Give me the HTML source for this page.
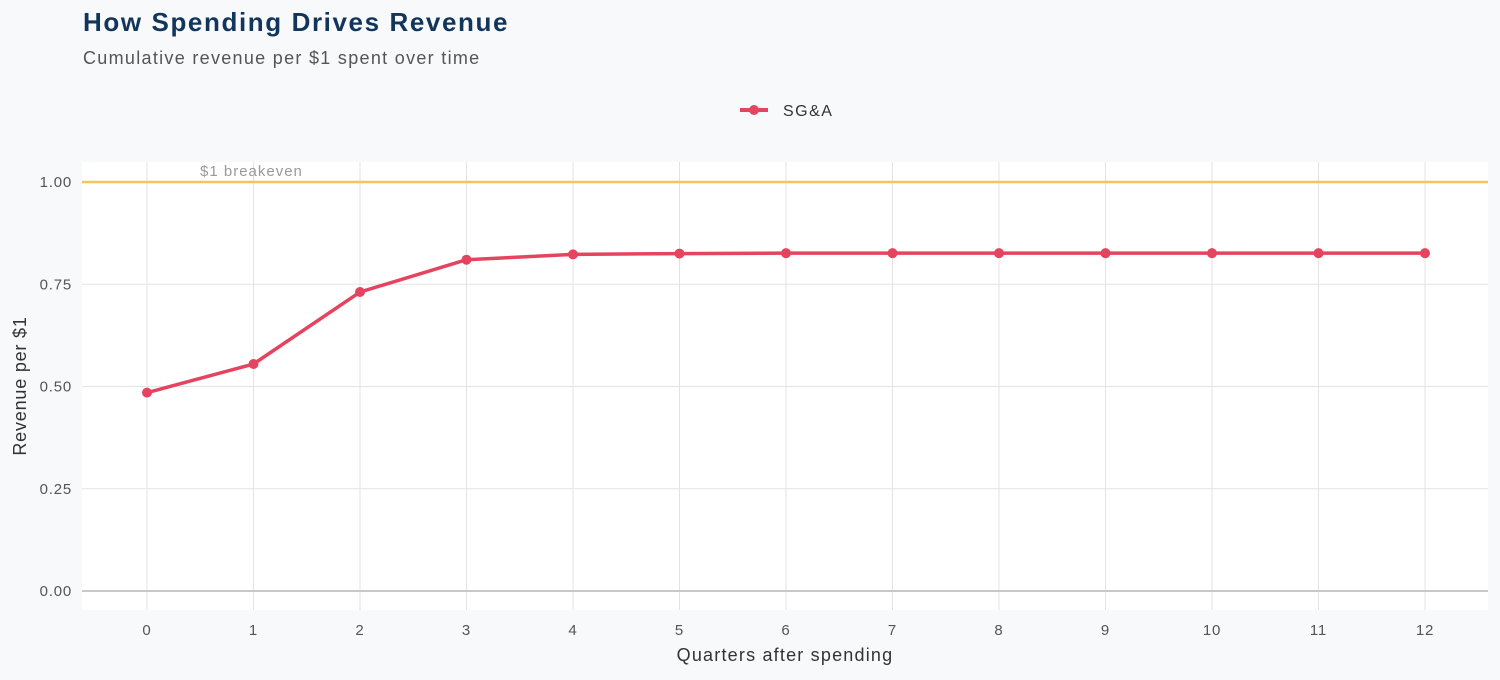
<!DOCTYPE html>
<html><head><meta charset="utf-8"><style>
body{margin:0;background:#f8f9fb;font-family:"Liberation Sans",sans-serif}
svg text{font-family:"Liberation Sans",sans-serif}
</style></head><body>
<svg width="1500" height="675">
<rect width="1500" height="675" fill="#f8f9fb"/>
<text x="83" y="31" font-size="26" font-weight="bold" fill="#12355b" letter-spacing="1.6">How Spending Drives Revenue</text>
<text x="83" y="64" font-size="18" fill="#555" letter-spacing="1.3">Cumulative revenue per $1 spent over time</text>
<g>
<line x1="740" y1="110" x2="768" y2="110" stroke="#e5445f" stroke-width="4"/>
<circle cx="754" cy="110" r="5" fill="#e5445f"/>
<text x="783" y="116" font-size="16" fill="#333" letter-spacing="1.5">SG&amp;A</text>
</g>
<rect x="82" y="162" width="1406" height="448" fill="#fff"/>
<g id="grid"></g>
<g id="marks"></g>
<text x="785" y="661" font-size="18" fill="#333" text-anchor="middle" letter-spacing="1.2">Quarters after spending</text>
<text transform="translate(26,386) rotate(-90)" font-size="18" fill="#333" text-anchor="middle" letter-spacing="0.8">Revenue per $1</text>
</svg>
<script>
const quarters=[0,1,2,3,4,5,6,7,8,9,10,11,12];
const sga=[0.485,0.555,0.731,0.810,0.823,0.825,0.826,0.826,0.826,0.826,0.826,0.826,0.826];
const yTicks=[0,0.25,0.5,0.75,1.0];
const yTickLabels=["0.00","0.25","0.50","0.75","1.00"];
const breakeven=1.0;
const NS="http://www.w3.org/2000/svg";
const xs=q=>147+q*(1425-147)/12;
const ys=v=>591-v*409;
const grid=document.getElementById('grid'),marks=document.getElementById('marks');
function mk(tag,attrs,parent){const e=document.createElementNS(NS,tag);for(const k in attrs)e.setAttribute(k,attrs[k]);parent.appendChild(e);return e;}
quarters.forEach(q=>{
 const l=mk('line',{x1:xs(q),x2:xs(q),y1:162,y2:610,stroke:'#e3e3e3','stroke-width':1},grid);
 
 
 const t=mk('text',{x:xs(q),y:635,'font-size':15,fill:'#555','text-anchor':'middle','letter-spacing':0.8},grid);
 t.textContent=q;
 
 
});
yTicks.forEach((v,i)=>{
 const l=mk('line',{x1:82,x2:1488,y1:ys(v),y2:ys(v),stroke:v===0?'#c8c8c8':'#e3e3e3','stroke-width':v===0?2:1},grid);
 
 
 const t=mk('text',{x:72,y:ys(v)+5,'font-size':15,fill:'#555','text-anchor':'end','letter-spacing':0.8},grid);
 t.textContent=yTickLabels[i];
 
 
});
const bl=mk('line',{x1:82,x2:1488,y1:ys(breakeven),y2:ys(breakeven),stroke:'#f2c65a','stroke-width':2.5},marks);


const bt=mk('text',{x:200,y:ys(breakeven)-6,'font-size':15,fill:'#999','letter-spacing':1},marks);
bt.textContent='$1 breakeven';


const p=mk('polyline',{points:quarters.map((q,i)=>xs(q)+','+ys(sga[i])).join(' '),fill:'none',stroke:'#e5445f','stroke-width':3.5,'stroke-linejoin':'round'},marks);


quarters.forEach((q,i)=>{
 const c=mk('circle',{cx:xs(q),cy:ys(sga[i]),r:5,fill:'#e5445f'},marks);
 
 
});
</script>
</body></html>
